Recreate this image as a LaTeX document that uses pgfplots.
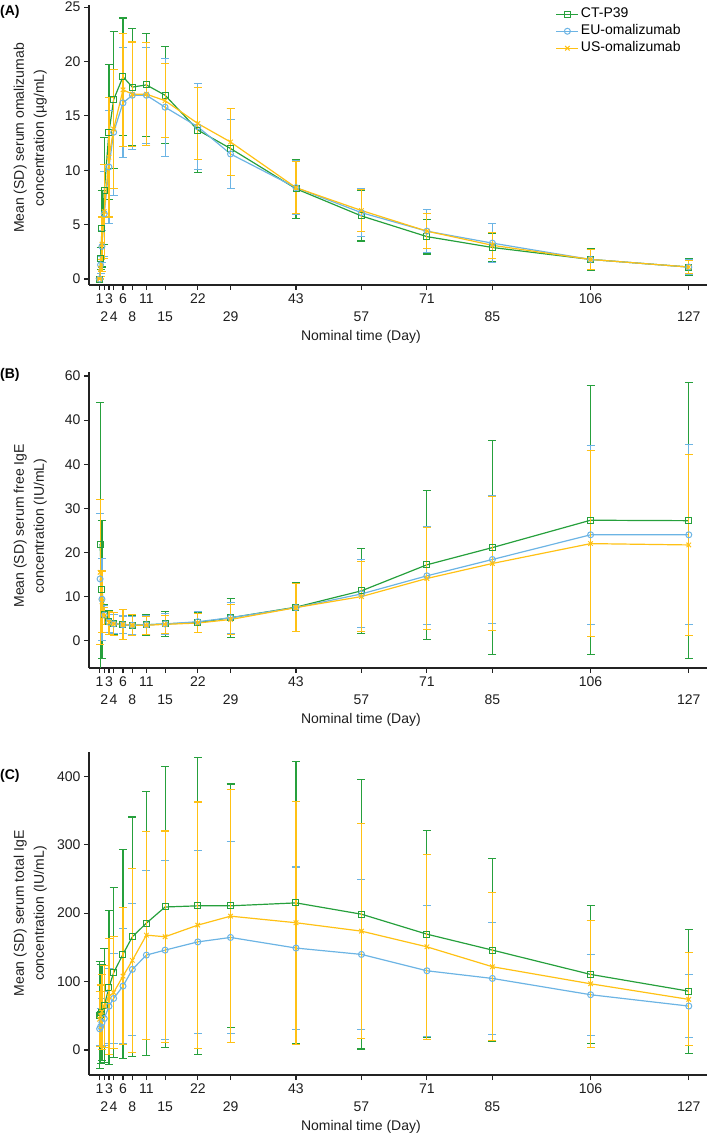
\documentclass[border=0pt]{standalone}
\usepackage{fontspec}
\setmainfont{Liberation Sans}
\usepackage{pgfplots}
\usepackage{pgfplotstable}
\pgfplotsset{compat=1.18}
\definecolor{cgreen}{RGB}{38,160,60}
\definecolor{cblue}{RGB}{108,180,228}
\definecolor{cyellow}{RGB}{255,193,20}
\definecolor{axisc}{RGB}{35,35,35}
\definecolor{textc}{RGB}{30,30,30}

% Panel A
\pgfplotstableread{
x y e
1 0 0
1.2 1.9 1.0
1.5 4.6 3.5
2 8.1 4.9
3 13.5 6.2
4 16.5 6.3
6 18.6 5.4
8 17.65 5.35
11 17.85 4.75
15 16.9 4.45
22 13.7 3.9
29 12.0 3.7
43 8.3 2.7
57 5.8 2.3
71 3.9 1.6
85 2.9 1.3
106 1.8 1.0
127 1.1 0.75
}\Agreen
\pgfplotstableread{
x y e
1 0 0
1.2 1.3 0.8
1.5 3.0 1.5
2 6.0 3.9
3 10.3 5.2
4 13.5 5.8
6 16.2 5.05
8 16.9 4.95
11 16.9 4.4
15 15.8 4.5
22 14.0 3.95
29 11.5 3.15
43 8.4 2.5
57 6.1 2.2
71 4.4 2.0
85 3.3 1.8
106 1.8 0.95
127 1.1 0.7
}\Ablue
\pgfplotstableread{
x y e
1 0 0
1.2 1.0 0.8
1.5 3.2 2.5
2 6.2 4.3
3 11.2 5.5
4 13.8 5.5
6 17.4 5.2
8 17.0 4.8
11 17.0 4.75
15 16.4 3.4
22 14.3 3.3
29 12.6 3.1
43 8.4 2.4
57 6.3 1.9
71 4.4 1.6
85 3.1 1.2
106 1.8 0.9
127 1.1 0.6
}\Ayellow

% Panel B
\pgfplotstableread{
x y e
1.1 21.9 32
1.5 11.6 15.6
2 6.0 2.3
3 4.3 2.5
4 3.9 2.4
6 3.6 2.0
8 3.5 2.2
11 3.6 2.4
15 3.8 2.9
22 4.1 2.3
29 5.2 4.45
43 7.6 5.5
57 11.3 9.6
71 17.2 16.9
85 21.1 24.2
106 27.3 30.5
127 27.2 31.3
}\Bgreen
\pgfplotstableread{
x y e
1.1 14.0 14.9
1.5 9.4 9.3
2 5.8 2.2
3 4.2 2.4
4 3.8 2.2
6 3.6 2.0
8 3.5 2.0
11 3.6 2.1
15 3.8 2.3
22 4.3 2.4
29 5.2 3.5
43 7.5 5.5
57 10.6 7.7
71 14.7 11.1
85 18.4 14.6
106 24.0 20.3
127 24.0 20.4
}\Bblue
\pgfplotstableread{
x y e
1.1 15.5 16.4
1.5 8.8 7.0
2 5.6 2.0
3 4.1 2.6
4 3.8 2.6
6 3.7 3.4
8 3.5 2.4
11 3.5 2.0
15 3.7 2.1
22 4.0 2.2
29 4.8 3.3
43 7.5 5.5
57 10.0 7.9
71 14.1 11.5
85 17.5 15.2
106 22.0 21.1
127 21.7 20.5
}\Byellow

% Panel C
\pgfplotstableread{
x y e
1 51 78
1.2 52.6 72
1.5 55 70
2 64.7 83
3 91.5 112
4 113 124
6 140 153
8 165.5 175
11 185.4 193
15 209 205
22 210.7 217
29 210.7 178
43 215 206
57 198.5 197
71 169.3 151
85 146 134
106 110.5 101
127 86 90.6
}\Cgreen
\pgfplotstableread{
x y e
1 31 24
1.2 34 27
1.5 40 35
2 46 40
3 64 55
4 75.4 66
6 93.4 84
8 117.8 96.5
11 138.7 123
15 146 131
22 158 134
29 164.5 140
43 149 118.5
57 139.7 110
71 115.8 96
85 104.6 82
106 80.8 59
127 64.2 46
}\Cblue
\pgfplotstableread{
x y e
1 45 40
1.2 50 45
1.5 56 55
2 64 60
3 78 85
4 84 82
6 108 100
8 131 134
11 167.9 152
15 165.5 154.5
22 182.5 180
29 195.6 185
43 186 177.5
57 173.7 156.7
71 150.8 135
85 121.7 108
106 96.8 92.5
127 74 68
}\Cyellow

\newcommand{\fs}{\fontsize{14bp}{16bp}\selectfont}

\pgfplotsset{
  myaxis/.style={
    scale only axis,
    width=618bp,
    xmin=-1.27, xmax=130.9,
    axis x line*=bottom, axis y line*=left,
    axis line style={line width=1.3bp, color=axisc, -},
    tick style={line width=1.1bp, color=axisc},
    tick align=outside,
    major tick length=5bp,
    xtick={1,3,6,11,22,43,71,106},
    extra x ticks={2,4,8,15,29,57,85,127},
    extra x tick style={tick label style={yshift=-18bp}},
    ticklabel style={font=\fs, color=textc},
    /pgf/number format/assume math mode=true,
    xlabel={Nominal time (Day)},
    xlabel style={at={(axis description cs:0.44,0)}, anchor=north, yshift=-45bp, font=\fs, color=textc, inner sep=0pt},
    ylabel style={anchor=south, align=center, font=\fontsize{14bp}{20bp}\selectfont, color=textc, inner sep=0pt},
    legend image code/.code={\draw[mark repeat=2, mark phase=2, #1] plot coordinates {(0bp,0bp) (11bp,0bp) (22bp,0bp)};},
  },
  sg/.style={cgreen, line width=1.2bp, mark=square, mark size=3bp, mark options={solid, line width=1bp},
    error bars/.cd, y dir=both, y explicit, error bar style={line width=1.1bp},
    error mark options={rotate=90, cgreen, mark size=4bp, line width=1.1bp}},
  sb/.style={cblue, line width=1.2bp, mark=o, mark size=3bp, mark options={solid, line width=1bp},
    error bars/.cd, y dir=both, y explicit, error bar style={line width=1.1bp},
    error mark options={rotate=90, cblue, mark size=4bp, line width=1.1bp}},
  sy/.style={cyellow, line width=1.2bp, mark=x, mark size=3.2bp, mark options={solid, line width=1bp},
    error bars/.cd, y dir=both, y explicit, error bar style={line width=1.1bp},
    error mark options={rotate=90, cyellow, mark size=4bp, line width=1.1bp}},
}

\begin{document}
\begin{tikzpicture}
\useasboundingbox (0,0) rectangle (709bp,1134bp);

% ---------- Panel A ----------
\begin{axis}[myaxis,
  at={(89bp,849bp)}, anchor=south west,
  height=280bp,
  ymin=-0.55, ymax=25.2,
  ytick={0,5,10,15,20,25},
  ylabel={Mean (SD) serum omalizumab\\concentration (µg/mL)},
  ylabel style={at={(axis description cs:-0.068,0.525)}},
  legend style={at={(rel axis cs:0.755,0.998)}, anchor=north west, draw=none, fill=none,
    font=\fs, row sep=0bp, inner sep=0pt, nodes={inner sep=2bp, text height=10bp, text depth=3bp}},
  legend cell align=left,
]
\addplot[sg] table[x=x, y=y, y error=e] {\Agreen};
\addlegendentry{CT-P39}
\addplot[sb] table[x=x, y=y, y error=e] {\Ablue};
\addlegendentry{EU-omalizumab}
\addplot[sy] table[x=x, y=y, y error=e] {\Ayellow};
\addlegendentry{US-omalizumab}
\end{axis}
\node[anchor=west, inner sep=0pt, font=\bfseries\fs] at (0bp,1122bp) {(A)};

% ---------- Panel B ----------
\begin{axis}[myaxis,
  at={(89bp,466bp)}, anchor=south west,
  height=296bp,
  ymin=-6.19, ymax=60.9,
  ytick={0,10,20,30,40,50,60},
  yticklabels={0,10,20,30,40,40,60},
  ylabel={Mean (SD) serum free IgE\\concentration (IU/mL)},
  ylabel style={at={(axis description cs:-0.068,0.48)}},
]
\addplot[sg] table[x=x, y=y, y error=e] {\Bgreen};
\addplot[sb] table[x=x, y=y, y error=e] {\Bblue};
\addplot[sy] table[x=x, y=y, y error=e] {\Byellow};
\end{axis}
\node[anchor=west, inner sep=0pt, font=\bfseries\fs] at (0bp,759bp) {(B)};

% ---------- Panel C ----------
\begin{axis}[myaxis,
  at={(89bp,59bp)}, anchor=south west,
  height=323bp,
  ymin=-36.5, ymax=435.5,
  ytick={0,100,200,300,400},
  ylabel={Mean (SD) serum total IgE\\concentration (IU/mL)},
  ylabel style={at={(axis description cs:-0.068,0.5)}},
]
\addplot[sg] table[x=x, y=y, y error=e] {\Cgreen};
\addplot[sb] table[x=x, y=y, y error=e] {\Cblue};
\addplot[sy] table[x=x, y=y, y error=e] {\Cyellow};
\end{axis}
\node[anchor=west, inner sep=0pt, font=\bfseries\fs] at (0bp,358bp) {(C)};
\end{tikzpicture}
\end{document}
